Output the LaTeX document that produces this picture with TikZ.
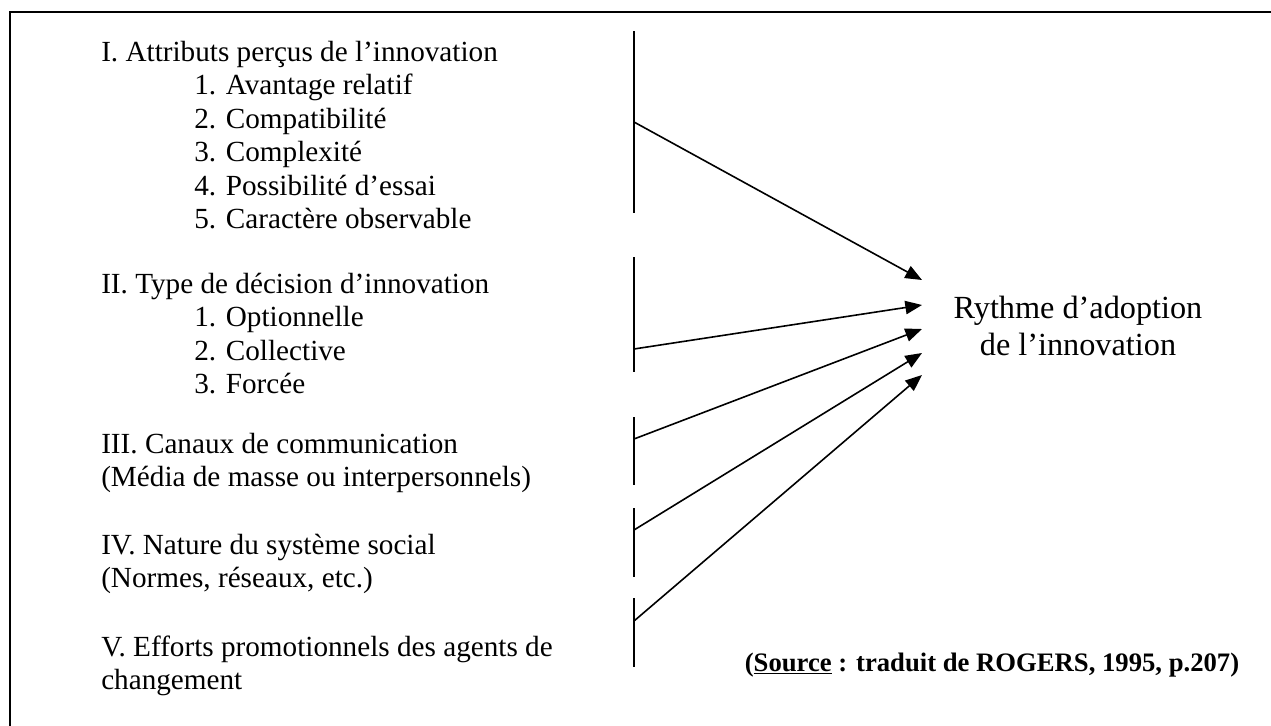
\documentclass[tikz,border=0pt]{standalone}
\usepackage{fontspec}
\setmainfont{Liberation Serif}
\usetikzlibrary{arrows.meta}
\begin{document}
\begin{tikzpicture}[x=0.75pt,y=-0.75pt,
  item/.style={anchor=base west, inner sep=0pt, font=\fontsize{21.9}{25.1}\selectfont},
  goal/.style={anchor=base, inner sep=0pt, font=\fontsize{24.2}{27.8}\selectfont},
  src/.style={anchor=base, inner sep=0pt, font=\fontsize{20}{23}\selectfont\bfseries},
  bar/.style={line width=1.5pt},
  frame/.style={line width=1.5pt},
  conn/.style={line width=1.2pt,-{Triangle[length=12.5pt,width=10pt]}},
]
\useasboundingbox (0,0) rectangle (1271,725);
\clip (0,0) rectangle (1271,725);
\draw[frame] (10,760) -- (10,12) -- (1300,12);

% Group I
\node[item] (g1) at (101,61) {I. Attributs perçus de l’innovation};
\node[item] (g1a) at (194,94.5) {1. Avantage relatif};
\node[item] (g1b) at (194,128) {2. Compatibilité};
\node[item] (g1c) at (194,161.5) {3. Complexité};
\node[item] (g1d) at (194,195) {4. Possibilité d’essai};
\node[item] (g1e) at (194,228.5) {5. Caractère observable};
% Group II
\node[item] (g2) at (101,293) {II. Type de décision d’innovation};
\node[item] (g2a) at (194,326.5) {1. Optionnelle};
\node[item] (g2b) at (194,360) {2. Collective};
\node[item] (g2c) at (194,393.5) {3. Forcée};
% Group III
\node[item] (g3) at (101,453) {III. Canaux de communication};
\node[item] (g3a) at (101,486.5) {(Média de masse ou interpersonnels)};
% Group IV
\node[item] (g4) at (101,554) {IV. Nature du système social};
\node[item] (g4a) at (101,587.5) {(Normes, réseaux, etc.)};
% Group V
\node[item] (g5) at (101,656) {V. Efforts promotionnels des agents de};
\node[item] (g5a) at (101,689.5) {changement};

% Target
\node[goal] (r1) at (1078,318) {Rythme d’adoption};
\node[goal] (r2) at (1078,355) {de l’innovation};

% Source
\node[src] (source) at (992,671) {(\underline{Source} : traduit de ROGERS, 1995, p.207)};

% Bars
\coordinate (b1t) at (634,31);  \coordinate (b1b) at (634,213);
\coordinate (b2t) at (634,257); \coordinate (b2b) at (634,372);
\coordinate (b3t) at (634,417); \coordinate (b3b) at (634,485);
\coordinate (b4t) at (634,508); \coordinate (b4b) at (634,577);
\coordinate (b5t) at (634,598); \coordinate (b5b) at (634,667);
\draw[bar] (b1t) -- (b1b);
\draw[bar] (b2t) -- (b2b);
\draw[bar] (b3t) -- (b3b);
\draw[bar] (b4t) -- (b4b);
\draw[bar] (b5t) -- (b5b);

% Arrow starts and tips
\coordinate (s1) at (634,122); \coordinate (t1) at (922,280);
\coordinate (s2) at (634,349); \coordinate (t2) at (922,305);
\coordinate (s3) at (634,439); \coordinate (t3) at (922,329);
\coordinate (s4) at (634,530); \coordinate (t4) at (922,353);
\coordinate (s5) at (634,621); \coordinate (t5) at (922,375);
\draw[conn] (s1) -- (t1);
\draw[conn] (s2) -- (t2);
\draw[conn] (s3) -- (t3);
\draw[conn] (s4) -- (t4);
\draw[conn] (s5) -- (t5);
\end{tikzpicture}
\end{document}
